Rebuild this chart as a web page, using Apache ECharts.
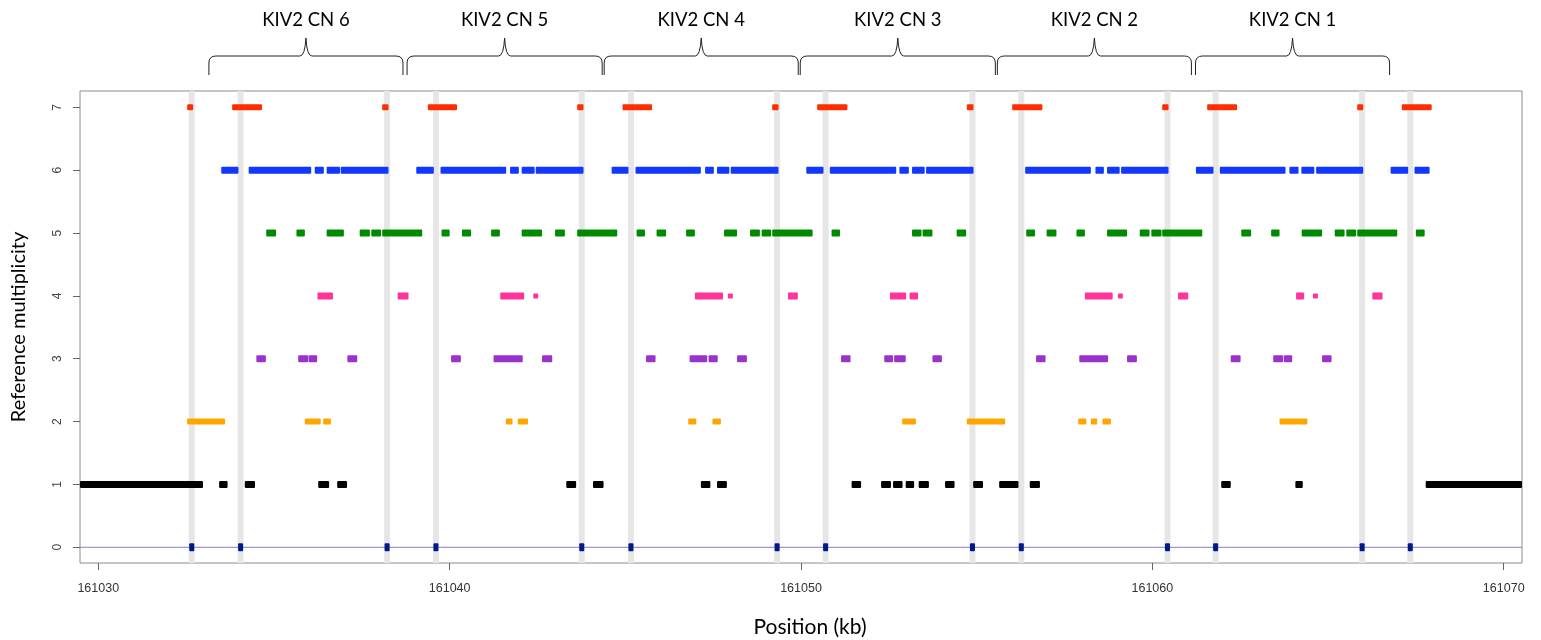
<!DOCTYPE html>
<html><head><meta charset="utf-8">
<script src="https://cdn.jsdelivr.net/npm/echarts@6/dist/echarts.min.js"></script>
<style>html,body{margin:0;padding:0;background:#fff}#c{width:1541px;height:640px}</style>
</head><body><div id="c"></div>
<script>
const X_MIN = 161029.48, X_MAX = 161070.52;
const Y_MIN = -0.25, Y_MAX = 7.26;
const xTicks = [161030, 161040, 161050, 161060, 161070];
const yTicks = [0, 1, 2, 3, 4, 5, 6, 7];

const cnLabels = ['KIV2 CN 6', 'KIV2 CN 5', 'KIV2 CN 4', 'KIV2 CN 3', 'KIV2 CN 2', 'KIV2 CN 1'];
const cnRegions = [[161033.12,161038.70],[161038.76,161044.37],[161044.37,161049.95],[161049.95,161055.56],[161055.56,161061.14],[161061.20,161066.78]];

// grey bands and level-0 marks
const bands = [161032.66,161034.05,161038.22,161039.61,161043.76,161045.16,161049.32,161050.70,161054.88,161056.27,161060.43,161061.80,161065.97,161067.34];

const red7 = [[161032.53,161032.70],[161033.81,161034.66],[161038.08,161038.26],[161039.38,161040.21],[161043.63,161043.81],[161044.92,161045.76],[161049.18,161049.36],[161050.46,161051.32],[161054.72,161054.91],[161056.01,161056.87],[161060.28,161060.46],[161061.56,161062.41],[161065.83,161066.00],[161067.10,161067.95]];
const blue6 = [[161033.50,161033.99],[161034.28,161036.06],[161036.16,161036.42],[161036.50,161036.88],[161036.90,161038.26],[161039.05,161039.55],[161039.74,161041.61],[161041.72,161041.97],[161042.05,161042.42],[161042.45,161043.81],[161044.61,161045.09],[161045.29,161047.15],[161047.27,161047.52],[161047.61,161047.96],[161048.00,161049.36],[161050.15,161050.64],[161050.82,161052.71],[161052.80,161053.07],[161053.16,161053.52],[161053.56,161054.91],[161056.38,161058.25],[161058.38,161058.62],[161058.71,161059.07],[161059.11,161060.46],[161061.24,161061.74],[161061.92,161063.79],[161063.90,161064.16],[161064.24,161064.61],[161064.66,161066.00],[161066.78,161067.28],[161067.46,161067.89]];
const green5 = [[161034.78,161035.06],[161035.64,161035.88],[161036.50,161036.99],[161037.44,161037.73],[161037.77,161038.05],[161038.08,161039.22],[161039.77,161040.00],[161040.35,161040.61],[161041.18,161041.43],[161042.05,161042.63],[161043.00,161043.28],[161043.63,161044.77],[161045.32,161045.56],[161045.89,161046.16],[161046.73,161046.98],[161047.81,161048.18],[161048.55,161048.83],[161048.88,161049.15],[161049.18,161050.33],[161050.87,161051.11],[161053.16,161053.43],[161053.46,161053.74],[161054.43,161054.70],[161056.41,161056.66],[161056.99,161057.27],[161057.84,161058.08],[161058.71,161059.28],[161059.64,161059.92],[161059.97,161060.26],[161060.28,161061.42],[161062.53,161062.81],[161063.38,161063.62],[161064.25,161064.83],[161065.19,161065.47],[161065.52,161065.80],[161065.83,161066.97],[161067.50,161067.75]];
const pink4 = [[161036.24,161036.68],[161038.52,161038.83],[161041.44,161042.12],[161046.98,161047.78],[161049.63,161049.91],[161052.53,161052.99],[161053.09,161053.33],[161058.08,161058.87],[161060.73,161061.02],[161064.09,161064.32],[161066.26,161066.55]];
const pink4Small = [161042.45, 161047.99, 161059.09, 161064.64];
const purple3 = [[161034.50,161034.77],[161035.69,161035.98],[161035.99,161036.23],[161037.09,161037.37],[161040.04,161040.32],[161041.25,161042.08],[161042.63,161042.92],[161045.59,161045.86],[161046.83,161047.33],[161047.37,161047.63],[161048.18,161048.46],[161051.14,161051.41],[161052.37,161052.62],[161052.65,161052.98],[161053.74,161054.01],[161056.69,161056.96],[161057.92,161058.74],[161059.28,161059.56],[161062.23,161062.51],[161063.44,161063.72],[161063.74,161063.98],[161064.83,161065.10]];
const orange2 = [[161032.53,161033.61],[161035.88,161036.33],[161036.40,161036.62],[161041.60,161041.79],[161041.94,161042.23],[161046.79,161047.02],[161047.48,161047.72],[161052.88,161053.27],[161054.72,161055.81],[161057.89,161058.12],[161058.25,161058.43],[161058.58,161058.82],[161063.62,161064.41]];
const black1 = [[161029.48,161032.98],[161033.44,161033.68],[161034.17,161034.46],[161036.26,161036.57],[161036.80,161037.08],[161043.32,161043.60],[161044.08,161044.38],[161047.15,161047.42],[161047.61,161047.89],[161051.44,161051.71],[161052.28,161052.56],[161052.62,161052.89],[161052.98,161053.22],[161053.35,161053.64],[161054.10,161054.37],[161054.90,161055.18],[161055.64,161056.19],[161056.51,161056.80],[161061.96,161062.23],[161064.07,161064.28],[161067.78,161070.52]];

function clipRect(r, cs) {
  const x1 = Math.max(r.x, cs.x), x2 = Math.min(r.x + r.width, cs.x + cs.width);
  const y1 = Math.max(r.y, cs.y), y2 = Math.min(r.y + r.height, cs.y + cs.height);
  if (x2 <= x1 || y2 <= y1) return null;
  return {x: x1, y: y1, width: x2 - x1, height: y2 - y1};
}

function segSeries(name, segs, level, color, h, z) {
  return {
    type: 'custom', name, coordinateSystem: 'cartesian2d', z: z || 5, silent: true,
    data: segs.map(s => [s[0], s[1], level]),
    encode: {x: [0, 1], y: 2},
    renderItem: (params, api) => {
      const p1 = api.coord([api.value(0), api.value(2)]);
      const p2 = api.coord([api.value(1), api.value(2)]);
      const shape = clipRect({x: p1[0], y: p1[1] - h / 2, width: Math.max(p2[0] - p1[0], 2), height: h}, params.coordSys);
      return shape ? {type: 'rect', shape: Object.assign(shape, {r: 1}), style: {fill: color}} : null;
    }
  };
}

function pointSeries(name, pts, level, color, w, h, z) {
  return {
    type: 'custom', name, coordinateSystem: 'cartesian2d', z: z || 5, silent: true,
    data: pts.map(v => [v, level]),
    encode: {x: 0, y: 1},
    renderItem: (params, api) => {
      const p = api.coord([api.value(0), api.value(1)]);
      return {type: 'rect', shape: {x: p[0] - w / 2, y: p[1] - h / 2, width: w, height: h, r: 1}, style: {fill: color}};
    }
  };
}

const chart = echarts.init(document.getElementById('c'), null, {renderer: 'canvas'});
chart.setOption({
  animation: false,
  backgroundColor: '#fff',
  grid: {left: 80, right: 19, top: 91, bottom: 77, show: true, borderColor: '#8c8c8c', borderWidth: 1, backgroundColor: 'transparent', containLabel: false, outerBoundsMode: 'none'},
  xAxis: {
    type: 'value', min: X_MIN, max: X_MAX,
    splitLine: {show: false}, axisLine: {show: false, onZero: false},
    axisTick: {show: true, length: 7, customValues: xTicks, lineStyle: {color: '#666'}},
    axisLabel: {customValues: xTicks, margin: 19, fontSize: 12.5, color: '#333', fontFamily: 'Liberation Sans', formatter: v => String(Math.round(v))},
    name: 'Position (kb)', nameLocation: 'middle', nameGap: 54,
    nameTextStyle: {fontSize: 21, fontFamily: 'Lato', color: '#000', padding: [0, 0, 0, 18]}
  },
  yAxis: {
    type: 'value', min: Y_MIN, max: Y_MAX,
    splitLine: {show: false}, axisLine: {show: false, onZero: false},
    axisTick: {show: true, length: 7, customValues: yTicks, lineStyle: {color: '#666'}},
    axisLabel: {customValues: yTicks, rotate: 90, margin: 16, fontSize: 12, color: '#444', fontFamily: 'Liberation Sans'},
    name: 'Reference multiplicity', nameLocation: 'middle', nameGap: 51,
    nameTextStyle: {fontSize: 20, fontFamily: 'Lato', color: '#000'}
  },
  series: [
    {
      type: 'custom', name: 'bands', coordinateSystem: 'cartesian2d', z: 1, silent: true,
      data: bands.map(v => [v]), encode: {x: 0},
      renderItem: (params, api) => {
        const top = api.coord([api.value(0), Y_MAX]);
        const bot = api.coord([api.value(0), Y_MIN]);
        return {type: 'rect', shape: {x: top[0] - 3, y: top[1], width: 6, height: bot[1] - top[1]}, style: {fill: '#e6e6e6'}};
      }
    },
    {
      type: 'line', name: 'zero', z: 2, silent: true, symbol: 'none',
      data: [[X_MIN, 0], [X_MAX, 0]],
      lineStyle: {color: '#7f7fd4', width: 1}
    },
    segSeries('7', red7, 7, '#ff2d00', 6),
    segSeries('6', blue6, 6, '#1238ff', 7),
    segSeries('5', green5, 5, '#008a00', 7),
    segSeries('4', pink4, 4, '#ff3399', 7),
    pointSeries('4s', pink4Small, 4, '#ff3399', 5, 5),
    segSeries('3', purple3, 3, '#9933cc', 7),
    segSeries('2', orange2, 2, '#ffa500', 6),
    segSeries('1', black1, 1, '#000000', 7),
    pointSeries('0', bands, 0, '#001a8a', 5, 8, 6),
    {
      type: 'custom', name: 'cn', coordinateSystem: 'cartesian2d', clip: false, z: 10, silent: true,
      data: cnRegions.map((r, i) => [r[0], r[1], i]), encode: {x: [0, 1]},
      renderItem: (params, api) => {
        const a = api.coord([api.value(0), 0])[0] + 1;
        const b = api.coord([api.value(1), 0])[0] - 1;
        const m = (a + b) / 2;
        const yE = 75, yH = 56, yP = 38, r = 7;
        const d = `M${a},${yE} L${a},${yH + r} Q${a},${yH} ${a + r},${yH} L${m - 6},${yH} Q${m - 1},${yH} ${m},${yP} Q${m + 1},${yH} ${m + 6},${yH} L${b - r},${yH} Q${b},${yH} ${b},${yH + r} L${b},${yE}`;
        return {type: 'group', children: [
          {type: 'path', shape: {pathData: d}, style: {stroke: '#222', fill: null, lineWidth: 1}},
          {type: 'text', style: {text: cnLabels[api.value(2)], x: m, y: 20, align: 'center', verticalAlign: 'middle', fontSize: 18.5, fontFamily: 'Lato', fill: '#000'}}
        ]};
      }
    }
  ]
});
</script>
</body></html>
